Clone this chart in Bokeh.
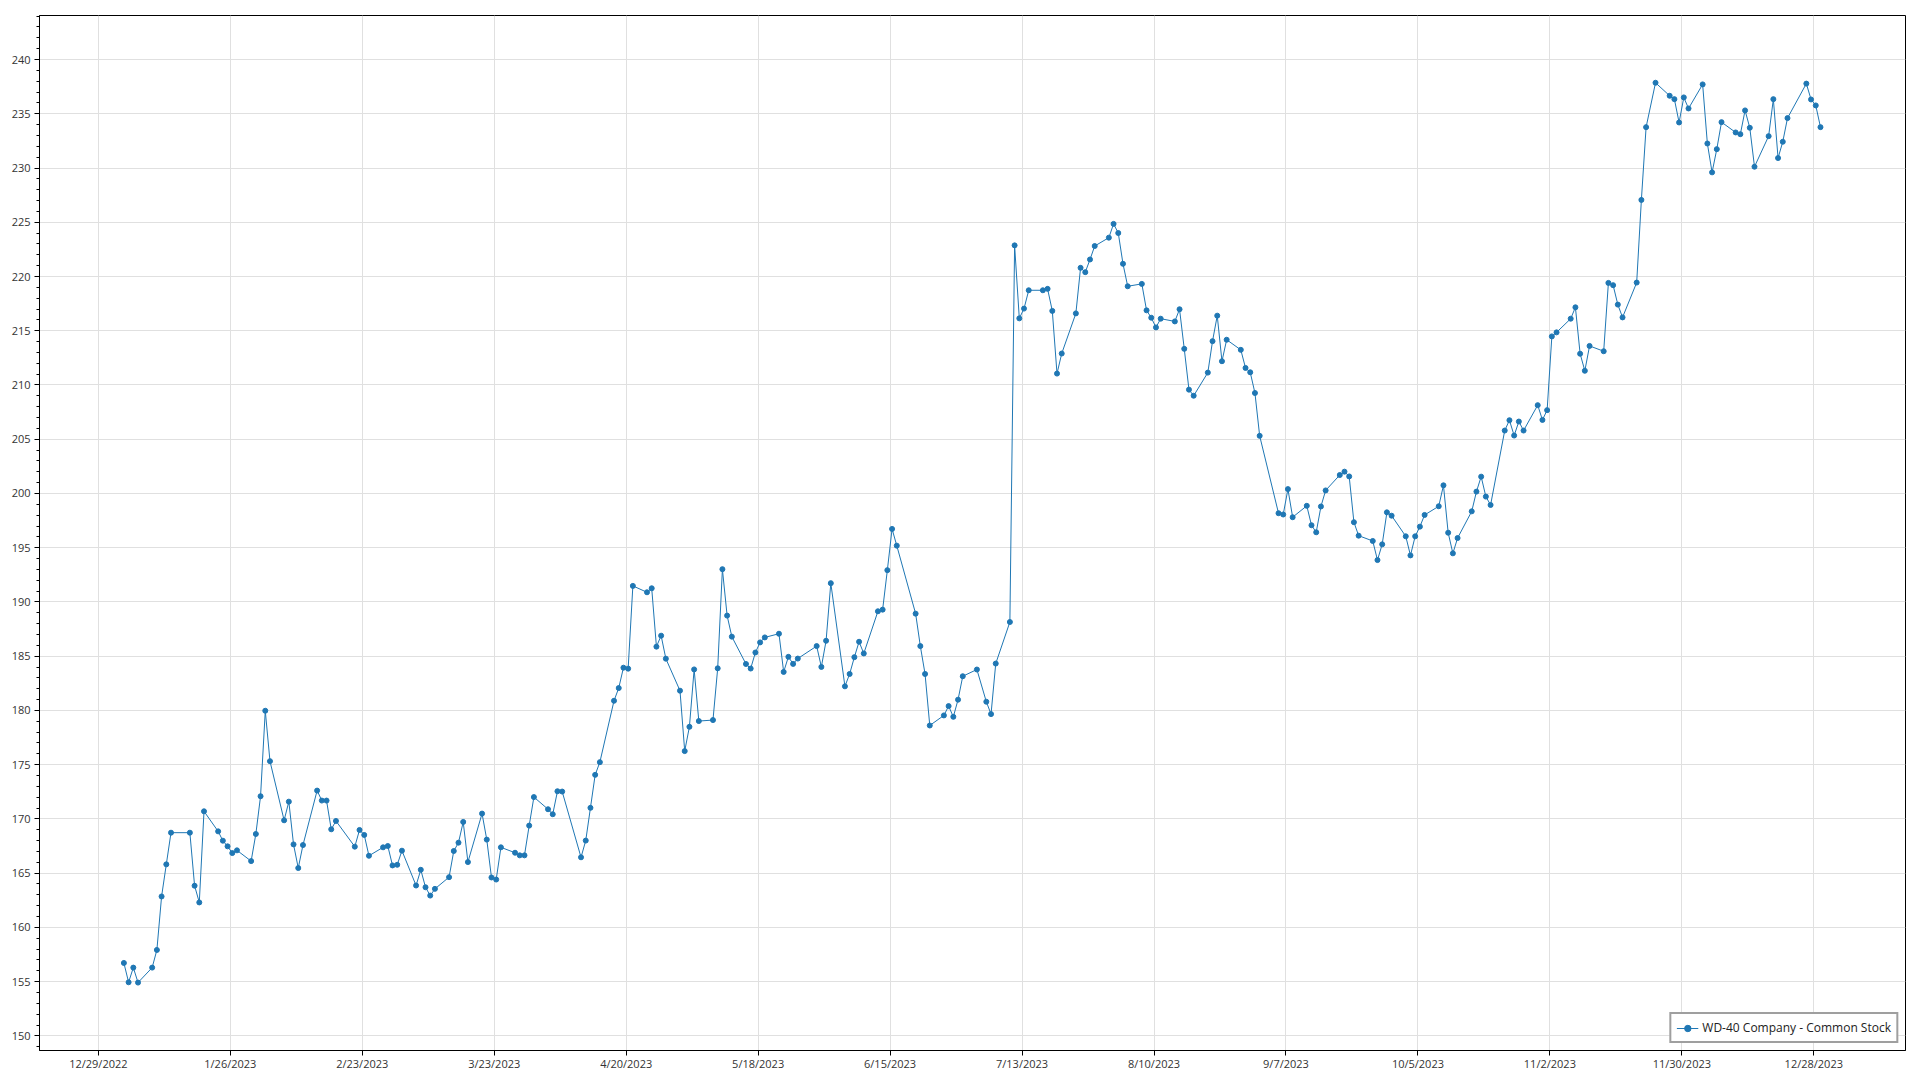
import pandas as pd
from bokeh.plotting import figure
from bokeh.models import (FixedTicker, SingleIntervalTicker, Range1d, ColumnDataSource,
                          CustomJSTickFormatter)
from bokeh.embed import file_html
from bokeh.resources import INLINE

SERIES_NAME = "WD-40 Company - Common Stock"

# NYSE closures in 2023 (weekdays)
HOLIDAYS = ["2023-01-16", "2023-02-20", "2023-04-07", "2023-05-29", "2023-06-19",
            "2023-07-04", "2023-09-04", "2023-11-23", "2023-12-25"]

JAN = [156.72, 154.94, 156.29, 154.91, 156.29, 157.92, 162.85, 165.81, 168.73, 168.73,
       163.84, 162.30, 170.70, 168.85, 167.99, 167.47, 166.85, 167.10, 166.11, 168.61]
FEB = [172.09, 179.97, 175.32, 169.87, 171.59, 167.65, 165.47, 167.59, 172.61, 171.69,
       171.69, 169.04, 169.81, 167.44, 168.98, 168.52, 166.60, 167.38, 167.50]
MAR = [165.71, 165.77, 167.07, 163.86, 165.31, 163.70, 162.93, 163.55, 164.63, 167.04,
       167.81, 169.72, 166.02, 170.49, 168.09, 164.60, 164.41, 167.38, 166.88, 166.64,
       166.64, 169.38, 172.01]
APR = [170.89, 170.43, 172.55, 172.52, 166.46, 168.00, 171.02, 174.06, 175.23, 180.89,
       182.06, 183.94, 183.85, 191.48, 190.89, 191.26, 185.88, 186.89, 184.77]
MAY = [181.82, 176.25, 178.49, 183.78, 179.02, 179.11, 183.88, 193.02, 188.74, 186.80,
       184.28, 183.86, 185.34, 186.27, 186.73, 187.07, 183.55, 184.94, 184.29, 184.78,
       185.93, 184.01]
JUN = [186.42, 191.73, 182.22, 183.36, 184.91, 186.33, 185.25, 189.14, 189.29, 192.93,
       196.73, 195.19, 188.92, 185.93, 183.36, 178.61, 179.54, 180.40, 179.41, 180.99,
       183.15]
JUL = [183.77, 180.80, 179.66, 184.32, 188.15, 222.87, 216.14, 217.04, 218.73, 218.73,
       218.86, 216.83, 211.05, 212.90, 216.60, 220.80, 220.40, 221.57, 222.81, 223.58]
AUG = [224.85, 224.01, 221.17, 219.10, 219.32, 216.88, 216.20, 215.31, 216.11, 215.86,
       216.98, 213.33, 209.57, 209.01, 211.14, 214.04, 216.39, 212.19, 214.17, 213.24,
       211.57, 211.17, 209.26]
SEP = [205.31, 198.18, 198.06, 200.40, 197.81, 198.86, 197.07, 196.42, 198.80, 200.28,
       201.70, 202.01, 201.57, 197.35, 196.11, 195.62, 193.86, 195.31, 198.26, 197.95]
OCT = [196.05, 194.29, 196.05, 196.94, 198.02, 198.82, 200.75, 196.38, 194.48, 195.89,
       198.35, 200.17, 201.55, 199.71, 198.94, 205.80, 206.75, 205.34, 206.63, 205.80,
       208.14, 206.78]
NOV = [207.68, 214.48, 214.85, 216.11, 217.16, 212.88, 211.31, 213.60, 213.11, 219.41,
       219.20, 217.41, 216.23, 219.44, 227.06, 233.77, 237.86, 236.66, 236.35, 234.20,
       236.51]
DEC = [235.49, 237.71, 232.26, 229.60, 231.74, 234.23, 233.28, 233.12, 235.31, 233.71,
       230.12, 232.94, 236.35, 230.92, 232.42, 234.60, 237.78, 236.32, 235.77, 233.77]

TICK_LABELS = ["12/29/2022", "1/26/2023", "2/23/2023", "3/23/2023", "4/20/2023",
               "5/18/2023", "6/15/2023", "7/13/2023", "8/10/2023", "9/7/2023",
               "10/5/2023", "11/2/2023", "11/30/2023", "12/28/2023"]

values = JAN + FEB + MAR + APR + MAY + JUN + JUL + AUG + SEP + OCT + NOV + DEC
dates = pd.bdate_range("2023-01-03", "2023-12-29", freq="C", holidays=HOLIDAYS)
n = min(len(values), len(dates))
dates = dates[:n] + pd.Timedelta(hours=10)
values = values[:n]

src = ColumnDataSource(data=dict(x=dates, y=values))

tick_ts = pd.to_datetime(TICK_LABELS, format="%m/%d/%Y")
tick_ms = [float(t.value // 10**6) for t in tick_ts]

FONT = "Open Sans"

p = figure(width=1918, height=1076, x_axis_type="datetime",
           output_backend="svg", toolbar_location=None,
           x_range=Range1d(pd.Timestamp("2022-12-16 12:15"), pd.Timestamp("2024-01-16 11:00")),
           y_range=Range1d(148.65, 244.06),
           min_border_left=39, min_border_right=13, min_border_top=15, min_border_bottom=26)

p.line("x", "y", source=src, line_color="#1f77b4", line_width=1, legend_label=SERIES_NAME)
p.scatter("x", "y", source=src, size=5, fill_color="#1f77b4", line_color="#1f77b4",
          legend_label=SERIES_NAME)

p.xaxis.ticker = FixedTicker(ticks=tick_ms, minor_ticks=[])
p.xaxis.formatter = CustomJSTickFormatter(code="""
    const d = new Date(tick);
    return (d.getUTCMonth() + 1) + "/" + d.getUTCDate() + "/" + d.getUTCFullYear();
""")
p.yaxis.ticker = SingleIntervalTicker(interval=5, num_minor_ticks=5)

for ax in (p.xaxis[0], p.yaxis[0]):
    ax.axis_line_color = "black"
    ax.axis_line_width = 1
    ax.major_tick_line_color = "black"
    ax.minor_tick_line_color = "black"
    ax.major_tick_in = 0
    ax.major_tick_out = 5
    ax.minor_tick_in = 0
    ax.minor_tick_out = 3
    ax.major_label_text_font = FONT
    ax.major_label_text_font_size = "11px"
    ax.major_label_text_color = "#333333"
p.xaxis.major_label_standoff = 0
p.yaxis.major_label_standoff = 4

p.xgrid.grid_line_color = "#e0e0e0"
p.ygrid.grid_line_color = "#e0e0e0"

p.outline_line_color = "black"
p.outline_line_alpha = 1
p.outline_line_width = 1
p.background_fill_color = "white"
p.border_fill_color = "white"

lg = p.legend[0]
lg.location = "bottom_right"
lg.margin = 7
lg.padding = 5
lg.spacing = 0
lg.glyph_width = 22
lg.glyph_height = 16
lg.label_standoff = 4
lg.label_text_font = FONT
lg.label_text_font_size = "12px"
lg.label_text_color = "#222222"
lg.border_line_color = "#404040"
lg.border_line_width = 2
lg.background_fill_alpha = 1

open("out.html", "w").write(file_html(p, INLINE))
